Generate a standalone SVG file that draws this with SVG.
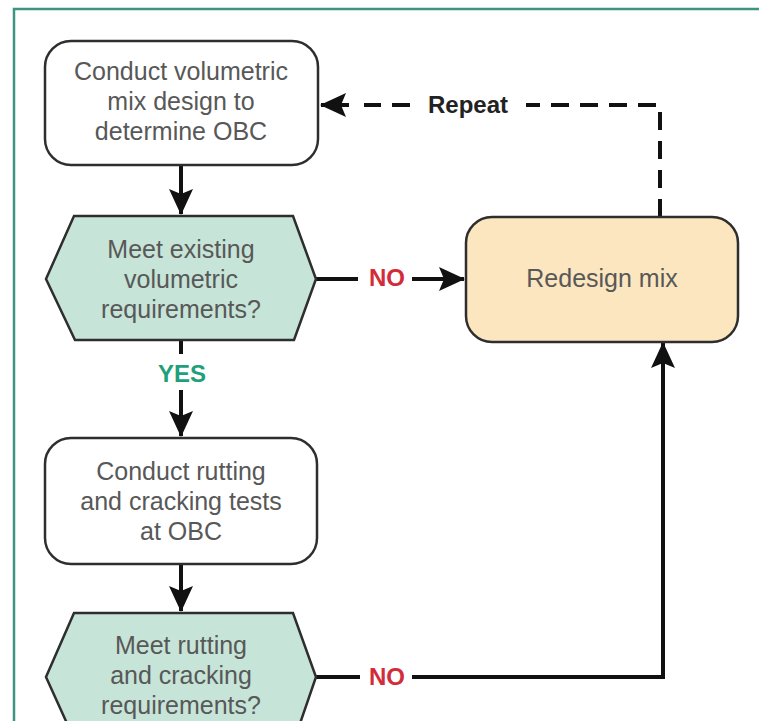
<svg xmlns="http://www.w3.org/2000/svg" width="759" height="721" viewBox="0 0 759 721">
<style>
.box{fill:#ffffff;stroke:#2e2e2e;stroke-width:2.5}
.hex{fill:#c6e4d7;stroke:#2e2e2e;stroke-width:2.5}
.act{fill:#fce6bf;stroke:#2e2e2e;stroke-width:2.5}
.t{font-family:"Liberation Sans",Arial,sans-serif;font-size:25px;fill:#585858;text-anchor:middle}
.ln{fill:none;stroke:#111111;stroke-width:4}
.dash{fill:none;stroke:#111111;stroke-width:4;stroke-dasharray:18 11}
.lbl{font-family:"Liberation Sans",Arial,sans-serif;font-size:24px;font-weight:bold;text-anchor:middle}
</style>
<defs>
<marker id="ah" viewBox="0 0 26 24" refX="25" refY="12" markerWidth="26" markerHeight="24" markerUnits="userSpaceOnUse" orient="auto">
<path d="M0,0 L26,12 L0,24 L5,12 Z" fill="#111111"/>
</marker>
</defs>
<rect x="0" y="0" width="759" height="721" fill="#ffffff"/>
<path d="M14,721 V9 H759" fill="none" stroke="#3f9381" stroke-width="2.5"/>
<g id="connectors">
<path class="ln" d="M181,165 V214" marker-end="url(#ah)"/>
<path class="ln" d="M316,279 H358"/>
<text class="lbl" x="387" y="286" fill="#d22b3a">NO</text>
<path class="ln" d="M412,279 H464" marker-end="url(#ah)"/>
<path class="dash" d="M660,217 V105 H526"/>
<text class="lbl" x="468" y="113" fill="#222222">Repeat</text>
<path class="dash" d="M410,105 H364"/>
<path class="ln" d="M349,105 H321" marker-end="url(#ah)"/>
<path class="ln" d="M181,340 V354"/>
<text class="lbl" x="182" y="382" fill="#1fa07a">YES</text>
<path class="ln" d="M181,390 V436" marker-end="url(#ah)"/>
<path class="ln" d="M181,564 V611" marker-end="url(#ah)"/>
<path class="ln" d="M316,677 H360"/>
<text class="lbl" x="387" y="685" fill="#d22b3a">NO</text>
<path class="ln" d="M412,677 H663 V343" marker-end="url(#ah)"/>
</g>
<g id="node-volumetric-design">
<rect class="box" x="45" y="41" width="273" height="124" rx="26"/>
<text class="t" x="181" y="80">Conduct volumetric</text>
<text class="t" x="181" y="110">mix design to</text>
<text class="t" x="181" y="140">determine OBC</text>
</g>
<g id="node-meet-volumetric">
<polygon class="hex" points="74,216 293,216 316,279 294,340 75,340 46,279"/>
<text class="t" x="181" y="258">Meet existing</text>
<text class="t" x="181" y="288">volumetric</text>
<text class="t" x="181" y="318">requirements?</text>
</g>
<g id="node-redesign">
<rect class="act" x="466" y="217" width="272" height="125" rx="26"/>
<text class="t" x="602" y="287">Redesign mix</text>
</g>
<g id="node-rutting-tests">
<rect class="box" x="45" y="438" width="272" height="126" rx="26"/>
<text class="t" x="181" y="480">Conduct rutting</text>
<text class="t" x="181" y="510">and cracking tests</text>
<text class="t" x="181" y="540">at OBC</text>
</g>
<g id="node-meet-rutting">
<polygon class="hex" points="74,613 293,613 316,677 294,741 75,741 46,677"/>
<text class="t" x="181" y="654">Meet rutting</text>
<text class="t" x="181" y="684">and cracking</text>
<text class="t" x="181" y="714">requirements?</text>
</g>
</svg>
